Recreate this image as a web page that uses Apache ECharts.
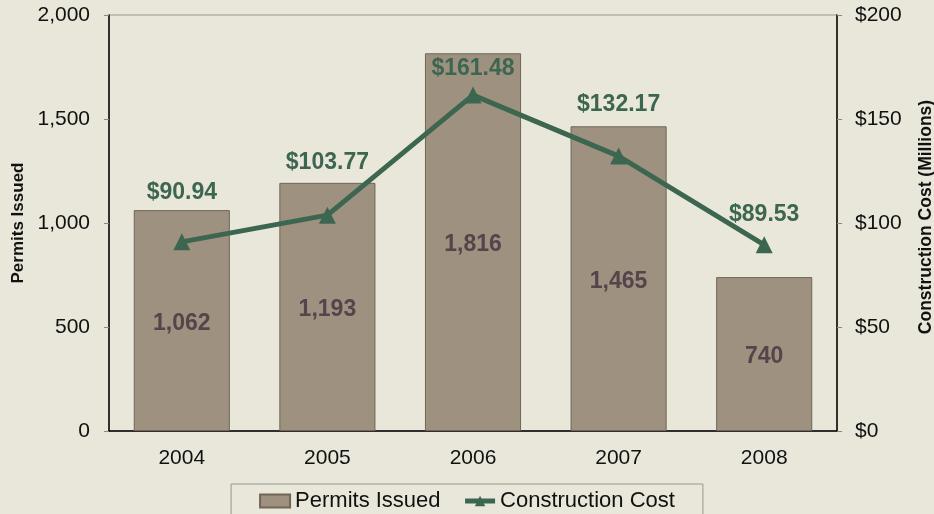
<!DOCTYPE html>
<html>
<head>
<meta charset="utf-8">
<script src="https://cdn.jsdelivr.net/npm/echarts@6/dist/echarts.min.js"></script>
<style>
  html, body { margin: 0; padding: 0; background: #E8E7DA; }
  #chart { width: 934px; height: 514px; }
</style>
</head>
<body>
<div id="chart"></div>
<script>
// 数据
var years = ['2004', '2005', '2006', '2007', '2008'];
var permits = [1062, 1193, 1816, 1465, 740];
var cost = [90.94, 103.77, 161.48, 132.17, 89.53];
// 折线标签离点的距离
var costLabelGap = [29, 33, 6, 31, 10];

var chart = echarts.init(document.getElementById('chart'));

var costData = cost.map(function (v, i) {
  return { value: v, label: { distance: costLabelGap[i] } };
});

function comma(v) {
  return String(v).replace(/\B(?=(\d{3})+(?!\d))/g, ',');
}

chart.setOption({
  backgroundColor: '#E8E7DA',
  textStyle: { fontFamily: 'Liberation Sans, Arial, sans-serif' },
  grid: {
    left: 109, right: 97, top: 15, bottom: 83,
    outerBoundsMode: 'none', containLabel: false,
    show: true, borderColor: '#9a978c', borderWidth: 1
  },
  legend: {
    top: 484,
    left: 'center',
    padding: [6, 28, 20, 28],
    borderColor: '#9a978c',
    borderWidth: 1,
    itemGap: 22,
    itemWidth: 30,
    itemHeight: 13,
    textStyle: { fontSize: 22, color: '#111' },
    data: [
      { name: 'Permits Issued', icon: 'rect' },
      { name: 'Construction Cost', lineStyle: { width: 5 } }
    ]
  },
  xAxis: {
    type: 'category',
    data: years,
    axisLine: { lineStyle: { color: '#000', width: 1.5 } },
    axisTick: { length: 6, lineStyle: { color: '#8a877c' } },
    axisLabel: { fontSize: 21, color: '#111', margin: 17 }
  },
  yAxis: [
    {
      type: 'value', min: 0, max: 2000, interval: 500,
      name: 'Permits Issued', nameLocation: 'middle', nameGap: 81,
      nameTextStyle: { fontSize: 17, fontWeight: 'bold', color: '#111' },
      axisLine: { show: true, lineStyle: { color: '#000', width: 1.5 } },
      axisTick: { show: true, length: 5, lineStyle: { color: '#8a877c' } },
      axisLabel: { fontSize: 21, color: '#111', margin: 19, formatter: comma },
      splitLine: { show: false }
    },
    {
      type: 'value', min: 0, max: 200, interval: 50,
      name: 'Construction Cost (Millions)', nameLocation: 'middle', nameGap: 80,
      nameTextStyle: { fontSize: 17.5, fontWeight: 'bold', color: '#111', padding: [0, 0, 0, 12] },
      axisLine: { show: true, lineStyle: { color: '#000', width: 1.5 } },
      axisTick: { show: true, length: 5, lineStyle: { color: '#8a877c' } },
      axisLabel: { fontSize: 21, color: '#111', margin: 18, formatter: function (v) { return '$' + v; } },
      splitLine: { show: false }
    }
  ],
  series: [
    {
      name: 'Permits Issued',
      type: 'bar',
      data: permits,
      barWidth: '66%',
      itemStyle: { color: '#9E9180', borderColor: '#6f6656', borderWidth: 1 },
      label: {
        show: true, position: 'inside', offset: [0, 3],
        fontSize: 23, fontWeight: 'bold', color: '#54454A',
        formatter: function (p) { return comma(p.value); }
      }
    },
    {
      name: 'Construction Cost',
      type: 'line',
      yAxisIndex: 1,
      data: costData,
      symbol: 'triangle',
      symbolSize: 17,
      lineStyle: { color: '#3D6650', width: 5 },
      itemStyle: { color: '#3D6650' },
      label: {
        show: true, position: 'top',
        fontSize: 23, fontWeight: 'bold', color: '#3D6650',
        formatter: function (p) { return '$' + p.value.toFixed(2); }
      }
    }
  ]
});
</script>
</body>
</html>
